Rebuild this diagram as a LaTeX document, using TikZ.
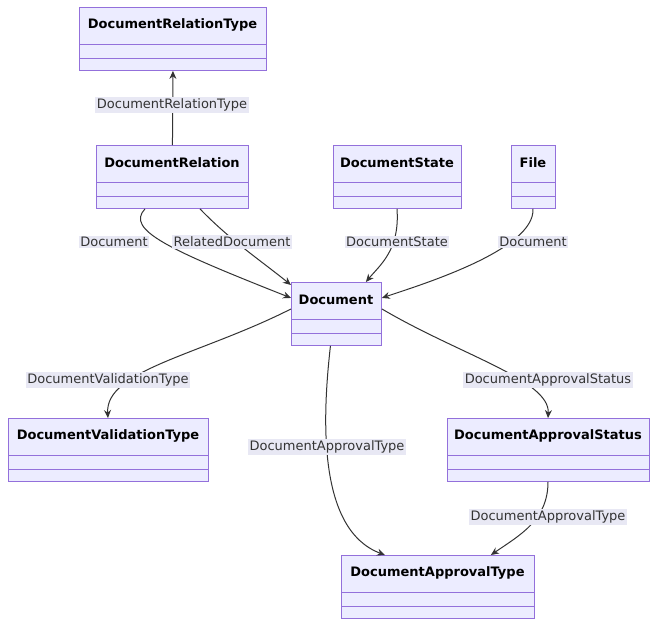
\documentclass[tikz,border=0pt]{standalone}
\usepackage{fontspec}
\setmainfont{DejaVu Sans}
\usetikzlibrary{arrows.meta,calc}
\definecolor{cfill}{HTML}{ECECFF}
\definecolor{cline}{HTML}{9370DB}
\definecolor{lbg}{HTML}{E8E8F4}
\definecolor{ed}{HTML}{333333}
\tikzset{
 cls/.style={draw=cline,fill=cfill,line width=0.9pt,inner sep=0pt},
 ttl/.style={font=\fontsize{13}{15}\selectfont\bfseries,text=black},
 lbl/.style={fill=lbg,inner sep=1.5pt,font=\fontsize{13}{15}\selectfont,text=ed},
 edge/.style={draw=ed,line width=1pt,-{Stealth[length=8pt,width=7pt]}}
}
\newcommand{\classbox}[5]{% name, x1,y1,x2,y2 text
 \node[cls,minimum width={#4-#2},minimum height=63,anchor=north west] (#1) at (#2,#3) {};
 \draw[cline,line width=0.9pt] (#2,#3+37) -- (#4,#3+37) (#2,#3+51) -- (#4,#3+51);
 \node[ttl] (#1-t) at ({(#2+#4)/2},#3+18) {#5};
}
\begin{document}
\begin{tikzpicture}[x=1pt,y=-1pt]
\useasboundingbox (0,0) rectangle (657,627);
\classbox{drt}{79}{7}{266}{DocumentRelationType}
\classbox{dr}{96}{145}{248}{DocumentRelation}
\classbox{ds}{333}{145}{461}{DocumentState}
\classbox{fi}{511}{145}{555}{File}
\classbox{doc}{291}{282}{381}{Document}
\classbox{dvt}{8}{418}{208}{DocumentValidationType}
\classbox{das}{447}{418}{649}{DocumentApprovalStatus}
\classbox{dat}{341}{555}{534}{DocumentApprovalType}
% edges
\draw[edge] (dr.north) -- (drt.south);
\draw[edge] ($(dr.south west)+(49,0)$) .. controls (125,230) and (170,250) .. ($(doc.west)+(0,-16)$);
\draw[edge] ($(dr.south west)+(104,0)$) .. controls (230,240) and (260,260) .. ($(doc.north west)+(0,3)$);
\draw[edge] ($(ds.south west)+(64,0)$) .. controls (400,250) and (380,265) .. ($(doc.north east)+(-16,0)$);
\draw[edge] ($(fi.south west)+(22,0)$) .. controls (535,250) and (420,285) .. ($(doc.east)+(0,-16)$);
\draw[edge] ($(doc.west)+(0,-5)$) .. controls (200,355) and (105,370) .. (dvt.north-|108,0);
\draw[edge] ($(doc.east)+(0,-5)$) .. controls (460,355) and (550,380) .. (das.north-|548,0);
\draw[edge] ($(doc.south)+(-6,0)$) .. controls (322,420) and (318,530) .. ($(dat.north west)+(44,0)$);
\draw[edge] (das.south-|548,0) .. controls (548,520) and (520,535) .. ($(dat.north east)+(-44,0)$);
% labels
\node[lbl] (l1) at (172,105) {DocumentRelationType};
\node[lbl] (l2) at (114,242) {Document};
\node[lbl] (l3) at (232,242) {RelatedDocument};
\node[lbl] (l4) at (397,242) {DocumentState};
\node[lbl] (l5) at (533,242) {Document};
\node[lbl] (l6) at (108,380) {DocumentValidationType};
\node[lbl] (l7) at (548,380) {DocumentApprovalStatus};
\node[lbl] (l8) at (327,447) {DocumentApprovalType};
\node[lbl] (l9) at (548,517) {DocumentApprovalType};
\end{tikzpicture}
\end{document}
